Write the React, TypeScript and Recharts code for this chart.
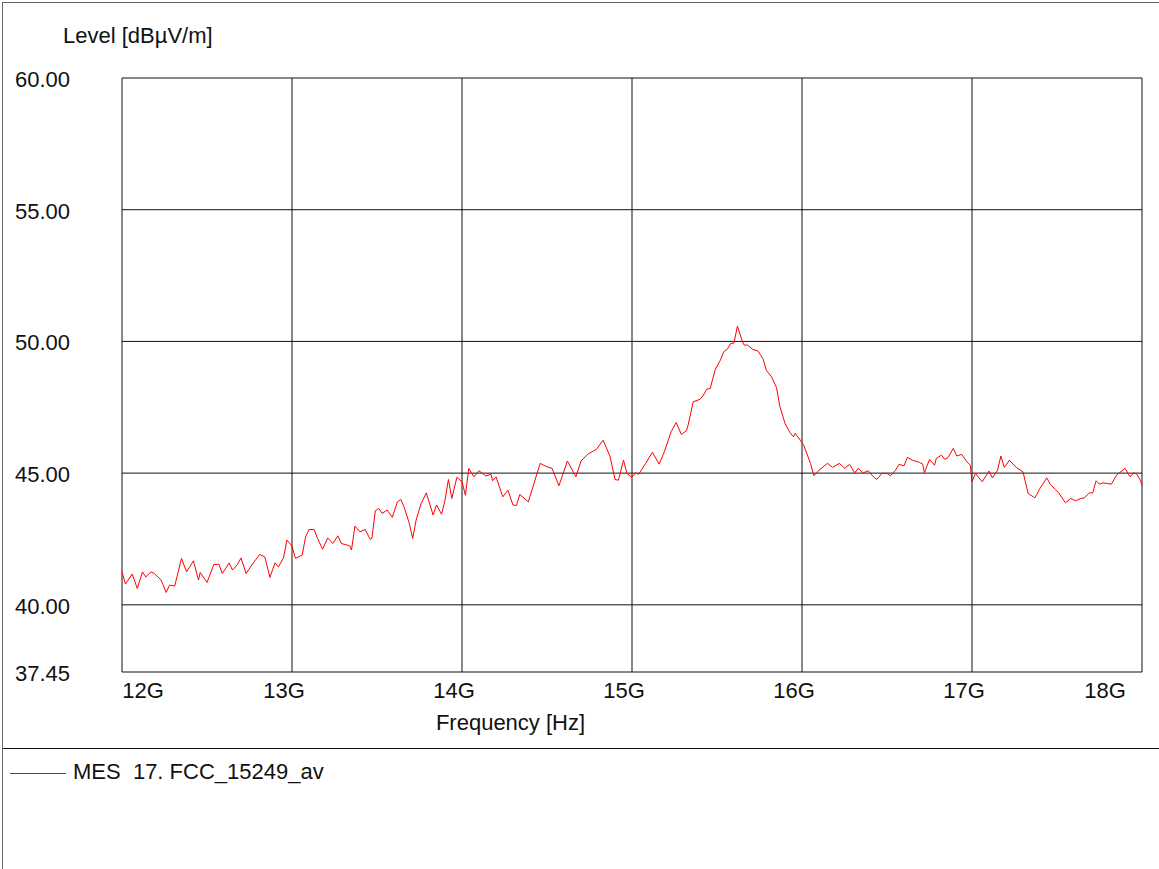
import { LineChart, Line, XAxis, YAxis, CartesianGrid, Legend } from 'recharts';

const freqGHz = [
  12.0, 12.02, 12.06, 12.09, 12.12, 12.14, 12.17, 12.19, 12.23, 12.26, 12.28, 12.31, 12.35, 12.38, 12.42, 12.45,
  12.46, 12.5, 12.54, 12.57, 12.59, 12.63, 12.65, 12.68, 12.7, 12.73, 12.77, 12.81, 12.84, 12.87, 12.9, 12.92,
  12.95, 12.97, 13.0, 13.02, 13.06, 13.08, 13.1, 13.13, 13.15, 13.18, 13.21, 13.24, 13.27, 13.29, 13.34, 13.35,
  13.37, 13.4, 13.43, 13.46, 13.47, 13.49, 13.51, 13.53, 13.56, 13.59, 13.62, 13.64, 13.66, 13.69, 13.71, 13.73,
  13.76, 13.79, 13.83, 13.85, 13.88, 13.9, 13.92, 13.94, 13.97, 14.0, 14.02, 14.04, 14.07, 14.1, 14.14, 14.17,
  14.18, 14.2, 14.24, 14.27, 14.3, 14.32, 14.34, 14.39, 14.46, 14.5, 14.53, 14.57, 14.62, 14.67, 14.7, 14.74,
  14.79, 14.83, 14.87, 14.9, 14.92, 14.95, 14.97, 15.0, 15.02, 15.04, 15.08, 15.12, 15.16, 15.19, 15.23, 15.26,
  15.29, 15.32, 15.33, 15.36, 15.4, 15.42, 15.44, 15.46, 15.49, 15.52, 15.54, 15.56, 15.58, 15.6, 15.62, 15.65,
  15.66, 15.68, 15.71, 15.74, 15.77, 15.79, 15.82, 15.85, 15.87, 15.9, 15.93, 15.95, 15.96, 15.99, 16.01, 16.05,
  16.07, 16.1, 16.13, 16.15, 16.18, 16.22, 16.25, 16.28, 16.31, 16.33, 16.36, 16.39, 16.42, 16.44, 16.47, 16.5,
  16.52, 16.55, 16.57, 16.6, 16.62, 16.65, 16.69, 16.71, 16.72, 16.75, 16.78, 16.79, 16.82, 16.84, 16.86, 16.89,
  16.91, 16.94, 16.97, 16.99, 17.0, 17.02, 17.06, 17.1, 17.12, 17.15, 17.17, 17.19, 17.22, 17.26, 17.3, 17.33,
  17.37, 17.4, 17.44, 17.46, 17.49, 17.51, 17.55, 17.58, 17.61, 17.64, 17.66, 17.69, 17.71, 17.73, 17.75, 17.77,
  17.82, 17.85, 17.9, 17.93, 17.95, 17.97, 17.99, 18.0,
];

// MES 17. FCC_15249_av, dBµV/m
const levels = [
  41.25, 40.79, 41.17, 40.62, 41.25, 41.06, 41.25, 41.19, 40.94, 40.47, 40.75, 40.71, 41.76, 41.25, 41.67, 40.94,
  41.23, 40.85, 41.53, 41.54, 41.19, 41.59, 41.32, 41.54, 41.78, 41.19, 41.57, 41.91, 41.82, 41.04, 41.59, 41.44,
  41.78, 42.46, 42.23, 41.76, 41.89, 42.58, 42.86, 42.86, 42.52, 42.11, 42.54, 42.33, 42.62, 42.33, 42.24, 42.08,
  42.99, 42.77, 42.86, 42.49, 42.52, 43.57, 43.66, 43.47, 43.6, 43.32, 43.91, 44.0, 43.7, 43.09, 42.52, 43.22,
  43.85, 44.25, 43.41, 43.79, 43.44, 43.97, 44.76, 44.04, 44.84, 44.67, 44.16, 45.18, 44.86, 45.09, 44.89, 44.96,
  44.71, 44.86, 44.1, 44.35, 43.79, 43.77, 44.19, 43.91, 45.37, 45.24, 45.18, 44.52, 45.46, 44.86, 45.46, 45.72,
  45.9, 46.25, 45.65, 44.76, 44.73, 45.49, 44.99, 44.84, 45.01, 44.96, 45.37, 45.79, 45.34, 45.81, 46.57, 46.92,
  46.47, 46.61, 46.82, 47.71, 47.8, 47.96, 48.19, 48.21, 48.94, 49.29, 49.61, 49.7, 49.92, 49.94, 50.58, 49.98,
  49.86, 49.86, 49.7, 49.64, 49.35, 48.91, 48.66, 48.25, 47.52, 46.89, 46.53, 46.38, 46.51, 46.25, 46.06, 45.37,
  44.9, 45.11, 45.27, 45.37, 45.22, 45.37, 45.18, 45.33, 45.01, 45.18, 45.01, 45.09, 44.86, 44.76, 44.99, 44.99,
  44.9, 45.11, 45.33, 45.28, 45.6, 45.49, 45.41, 45.34, 45.01, 45.52, 45.3, 45.56, 45.68, 45.52, 45.6, 45.94,
  45.65, 45.71, 45.43, 45.3, 44.67, 44.99, 44.67, 45.08, 44.82, 45.11, 45.65, 45.22, 45.49, 45.22, 45.05, 44.23,
  44.06, 44.42, 44.82, 44.58, 44.38, 44.25, 43.87, 44.04, 43.95, 44.04, 44.06, 44.25, 44.25, 44.71, 44.58, 44.63,
  44.58, 44.92, 45.18, 44.86, 45.01, 44.96, 44.73, 44.54,
];

const xTicks = [12, 13, 14, 15, 16, 17, 18];
const yTicks = [37.45, 40, 45, 50, 55, 60];

const data = freqGHz.map((f, i) => ({ f, level: levels[i] }));

const FONT = '"Liberation Sans", Arial, Helvetica, sans-serif';

const XTick = (props: any) => {
  const v = props.payload.value;
  // end labels are pulled inside the plot like the original
  const dx = v === 12 ? 21 : v === 18 ? -37 : -8;
  return (
    <text x={props.x + dx} y={props.y + 26} textAnchor="middle" fontFamily={FONT} fontSize={22} fill="#111">
      {v}G
    </text>
  );
};

const YTick = (props: any) => (
  <text x={15} y={props.y + 9} textAnchor="start" fontFamily={FONT} fontSize={22} fill="#111">
    {Number(props.payload.value).toFixed(2)}
  </text>
);

const yTitle = () => (
  <text x={63} y={43} fontFamily={FONT} fontSize={22} fill="#111">
    Level [dBµV/m]
  </text>
);

const xTitle = () => (
  <text x={510.5} y={730} textAnchor="middle" fontFamily={FONT} fontSize={22} fill="#111">
    Frequency [Hz]
  </text>
);

const renderLegend = () => (
  <div style={{ position: 'relative', width: 400, height: 28, fontFamily: FONT, fontSize: 22, color: '#111' }}>
    <div style={{ position: 'absolute', left: 0, top: 13, width: 56, height: 1, background: '#ff0000' }} />
    <span style={{ position: 'absolute', left: 63, top: 1, lineHeight: '22px', whiteSpace: 'pre' }}>
      MES  17. FCC_15249_av
    </span>
  </div>
);

export default function App() {
  return (
    <div style={{ position: 'absolute', left: 0, top: 0, width: 1159, height: 869, background: '#fff' }}>
      <div
        style={{
          position: 'absolute',
          left: 2,
          top: 2,
          width: 1157,
          height: 867,
          borderTop: '1px solid #666',
          borderLeft: '1px solid #666',
        }}
      />
      <div style={{ position: 'absolute', left: 3, top: 748, width: 1156, height: 1, background: '#111' }} />
      <LineChart
        width={1159}
        height={869}
        data={data}
        margin={{ top: 78, right: 17, bottom: 137, left: 0 }}
      >
        <CartesianGrid stroke="#111" strokeWidth={1} horizontalValues={yTicks} verticalValues={xTicks} />
        <XAxis
          dataKey="f"
          type="number"
          domain={[12, 18]}
          ticks={xTicks}
          height={60}
          axisLine={false}
          tickLine={false}
          tickSize={0}
          tickMargin={0}
          tick={XTick}
          label={xTitle}
        />
        <YAxis
          type="number"
          domain={[37.45, 60]}
          ticks={yTicks}
          width={122}
          axisLine={false}
          tickLine={false}
          tickSize={0}
          tickMargin={0}
          tick={YTick}
          label={yTitle}
        />
        <Legend
          layout="horizontal"
          verticalAlign="middle"
          align="center"
          content={renderLegend}
          wrapperStyle={{ left: 10, top: 760, width: 'auto' }}
        />
        <Line
          dataKey="level"
          type="linear"
          stroke="#ff0000"
          strokeWidth={1}
          dot={false}
          isAnimationActive={false}
        />
      </LineChart>
    </div>
  );
}
